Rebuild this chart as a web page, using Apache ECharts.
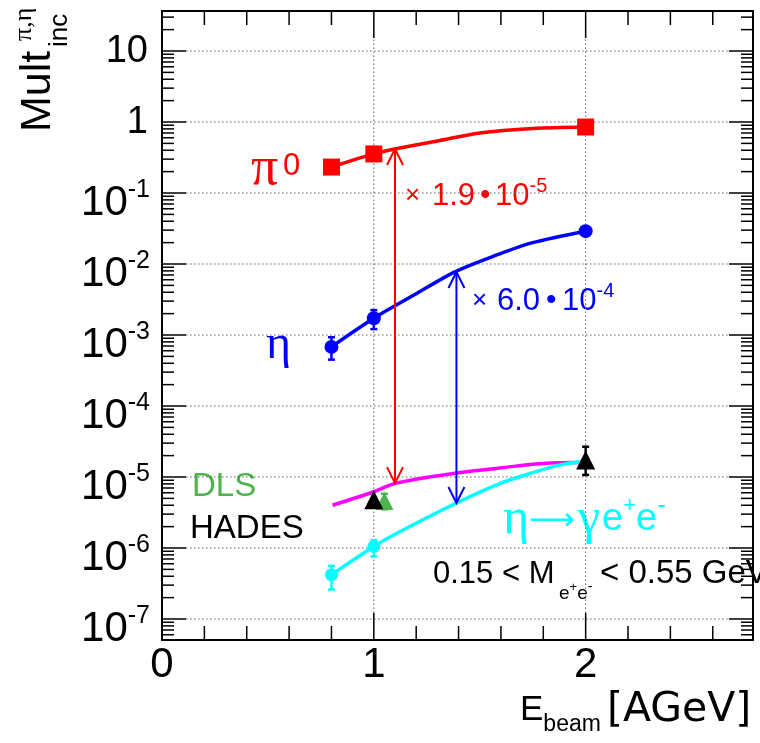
<!DOCTYPE html>
<html>
<head>
<meta charset="utf-8">
<script src="https://cdn.jsdelivr.net/npm/echarts@6/dist/echarts.min.js"></script>
<style>
  html, body { margin: 0; padding: 0; background: #fff; }
  #chart { width: 760px; height: 743px; }
</style>
</head>
<body>
<div id="chart"></div>
<script>
// Inclusive meson multiplicities in 12C + 12C versus beam energy (AGeV)

// pi0 measurements and the curve through them
const piEnergy = [0.8, 1.0, 2.0];
const piMult = [0.232, 0.355, 0.85];
const piCurveEnergy = [0.8, 1.0, 1.1, 1.3, 1.5, 1.75, 2.0];
const piCurveMult = [0.232, 0.355, 0.417, 0.54, 0.70, 0.81, 0.85];

// eta measurements (with error ranges) and the curve through them
const etaEnergy = [0.8, 1.0, 2.0];
const etaMult = [6.8e-4, 1.72e-3, 0.029];
const etaErrLow = [4.5e-4, 1.21e-3];
const etaErrHigh = [9.3e-4, 2.24e-3];
const etaCurveEnergy = [0.8, 1.0, 1.2, 1.38, 1.58, 1.75, 2.0];
const etaCurveMult = [6.8e-4, 1.72e-3, 3.8e-3, 7.7e-3, 0.0134, 0.020, 0.029];

// eta -> gamma e+ e- points and curve
const etaDalitzEnergy = [0.8, 1.0];
const etaDalitzMult = [4.2e-7, 1.05e-6];
const etaDalitzErrLow = [2.6e-7, 7.6e-7];
const etaDalitzErrHigh = [5.6e-7, 1.29e-6];
const etaDalitzCurveEnergy = [0.8, 1.0, 1.12, 1.39, 1.6, 1.75, 1.88, 1.98];
const etaDalitzCurveMult = [4.2e-7, 1.05e-6, 1.68e-6, 4.3e-6, 8.2e-6, 1.15e-5, 1.48e-5, 1.65e-5];

// pi0 Dalitz curve
const piDalitzCurveEnergy = [0.805, 1.0, 1.105, 1.39, 1.595, 1.83, 1.99];
const piDalitzCurveMult = [4.0e-6, 6.2e-6, 8.2e-6, 1.14e-5, 1.34e-5, 1.58e-5, 1.6e-5];

// dilepton data in 0.15 < M < 0.55 GeV
const hadesEnergy = [1.0, 2.0];
const hadesMult = [4.8e-6, 1.73e-5];
const hadesErrEnergy = [2.0];
const hadesErrLow = [1.07e-5];
const hadesErrHigh = [2.67e-5];
const dlsEnergy = [1.05];
const dlsMult = [4.6e-6];
const dlsErrLow = [3.5e-6];
const dlsErrHigh = [5.8e-6];

// scaling arrows: energy, upper end, lower end
const piArrow = [1.1, 0.417, 8.2e-6];
const etaArrow = [1.39, 7.7e-3, 4.3e-6];

// axes
const xMin = 0, xMax = 2.79;
const yMin = 5.06e-8, yMax = 36.6;
const xMajorTicks = [1, 2];
const xMinorTicks = [0.2, 0.4, 0.6, 0.8, 1.2, 1.4, 1.6, 1.8, 2.2, 2.4, 2.6];
const tickDecades = [1e-8, 1e-7, 1e-6, 1e-5, 1e-4, 1e-3, 1e-2, 1e-1, 1, 10];
const decadeSteps = [1, 2, 3, 4, 5, 6, 7, 8, 9];
const yTickValues = [1e-7, 1e-6, 1e-5, 1e-4, 1e-3, 1e-2, 1e-1, 1, 10];
const yTickLabels = ['10^-7', '10^-6', '10^-5', '10^-4', '10^-3', '10^-2', '10^-1', '1', '10'];

const SANS = '"Liberation Sans", Arial, Helvetica, sans-serif';
const WIDE = '"DejaVu Sans", "Liberation Sans", sans-serif';
const SERIF = '"Liberation Serif", "DejaVu Serif", serif';
const RED = '#ff0000', BLUE = '#0000ff', CYAN = '#00ffff', MAGENTA = '#ff00ff', GREEN = '#4db34d';

const measureCtx = document.createElement('canvas').getContext('2d');
function textWidth(t, size, fam) {
  measureCtx.font = size + 'px ' + fam;
  return measureCtx.measureText(t).width;
}
function textEl(x, y, t, size, fill, fam, align) {
  return {
    type: 'text', x: x, y: y, silent: true,
    style: { text: t, font: size + 'px ' + fam, fill: fill, align: align || 'left', verticalAlign: 'middle' }
  };
}
// a run of text pieces laid out left to right (sub/superscripts via dy)
function chain(x, y, parts, fill) {
  const out = [];
  parts.forEach(function (p) {
    if (p.x != null) x = p.x;
    const fam = p.fam || SANS;
    out.push(textEl(x, y + (p.dy || 0), p.t, p.size, p.fill || fill, fam));
    x += textWidth(p.t, p.size, fam);
  });
  return out;
}
function seg(x1, y1, x2, y2, style) {
  return { type: 'line', shape: { x1: x1, y1: y1, x2: x2, y2: y2 }, style: style };
}
function pairs(xs, ys) { return xs.map(function (x, i) { return [x, ys[i]]; }); }
function triples(xs, a, b) { return xs.map(function (x, i) { return [x, a[i], b[i]]; }); }

// frame ticks on all four sides plus dotted grid
function renderFrame(params, api) {
  const lb = api.coord([xMin, yMin]);
  const rt = api.coord([xMax, yMax]);
  const xl = lb[0], yb = lb[1], xr = rt[0], yt = rt[1];
  const kids = [];
  const tick = { stroke: '#000', lineWidth: 1.5 };
  const grid = { stroke: '#606060', lineWidth: 1, lineDash: [1.5, 2.5] };
  tickDecades.forEach(function (dec) {
    decadeSteps.forEach(function (m) {
      const v = dec * m;
      if (v < yMin || v > yMax) return;
      const py = api.coord([xMin, v])[1];
      const len = m === 1 ? 24 : 12;
      if (m === 1) kids.push(seg(xl + len, py, xr - len, py, grid));
      kids.push(seg(xl, py, xl + len, py, tick), seg(xr - len, py, xr, py, tick));
    });
  });
  xMajorTicks.forEach(function (v) {
    const px = api.coord([v, yMin])[0];
    kids.push(seg(px, yb - 27, px, yt + 27, grid));
    kids.push(seg(px, yb, px, yb - 27, tick), seg(px, yt, px, yt + 27, tick));
  });
  xMinorTicks.forEach(function (v) {
    const px = api.coord([v, yMin])[0];
    kids.push(seg(px, yb, px, yb - 14, tick), seg(px, yt, px, yt + 14, tick));
  });
  return { type: 'group', children: kids };
}

// y tick labels, 10 with a raised exponent
function renderYLabel(params, api) {
  const idx = params.dataIndex;
  const p = api.coord([xMin, yTickValues[idx]]);
  const right = p[0] - 12;
  const parts = yTickLabels[idx].split('^');
  if (parts.length === 1) {
    return { type: 'group', children: [textEl(right - 2, p[1] + 1, parts[0], 38, '#000', SANS, 'right')] };
  }
  const supW = textWidth(parts[1], 25, SANS);
  return {
    type: 'group', children: [
      textEl(right, p[1] - 3, parts[1], 25, '#000', SANS, 'right'),
      textEl(right - supW, p[1] + 10, parts[0], 42, '#000', SANS, 'right')
    ]
  };
}

function renderErr(params, api) {
  const x = api.value(0);
  const a = api.coord([x, api.value(1)]);
  const b = api.coord([x, api.value(2)]);
  const st = { stroke: api.visual('color'), lineWidth: 2.5 };
  return {
    type: 'group', children: [
      seg(a[0], a[1], b[0], b[1], st),
      seg(a[0] - 3.5, a[1], a[0] + 3.5, a[1], st),
      seg(b[0] - 3.5, b[1], b[0] + 3.5, b[1], st)
    ]
  };
}

function renderArrow(params, api) {
  const x = api.value(0);
  const a = api.coord([x, api.value(1)]);
  const b = api.coord([x, api.value(2)]);
  const st = { stroke: api.visual('color'), lineWidth: 2, fill: 'none' };
  return {
    type: 'group', children: [
      seg(a[0], a[1], b[0], b[1], st),
      { type: 'polyline', shape: { points: [[a[0] - 8, a[1] + 16], [a[0], a[1]], [a[0] + 8, a[1] + 16]] }, style: st },
      { type: 'polyline', shape: { points: [[b[0] - 8, b[1] - 16], [b[0], b[1]], [b[0] + 8, b[1] - 16]] }, style: st }
    ]
  };
}

function curve(data, color) {
  return {
    type: 'line', data: data, smooth: 0.3, showSymbol: false, symbol: 'none', z: 3,
    lineStyle: { color: color, width: 3.5 }, silent: true
  };
}
function markers(data, symbol, size, color, z) {
  return {
    type: 'scatter', data: data, symbol: symbol, symbolSize: size, z: z || 6,
    itemStyle: { color: color, opacity: 1 }, silent: true
  };
}

// annotation texts
const annotations = [].concat(
  chain(210, 43, [{ t: '12', size: 27 }]),
  chain(243, 67, [{ t: 'C', size: 46 }, { t: '+', size: 46, x: 297 }]),
  chain(328, 43, [{ t: '12', size: 27 }]),
  chain(362, 67, [{ t: 'C', size: 46 }]),
  chain(251, 170, [{ t: 'π', size: 54, fam: SERIF }], RED),
  chain(283, 166, [{ t: '0', size: 31 }], RED),
  chain(266, 345, [{ t: 'η', size: 48, fam: SERIF }], BLUE),
  chain(405, 196, [
    { t: '×', size: 26 }, { t: '1.9', size: 31, x: 432 }, { t: '•', size: 30, x: 480 },
    { t: '10', size: 31, x: 495 }, { t: '-5', size: 20, dy: -10 }
  ], RED),
  chain(472, 301, [
    { t: '×', size: 26 }, { t: '6.0', size: 31, x: 497 }, { t: '•', size: 30, x: 546 },
    { t: '10', size: 31, x: 562 }, { t: '-4', size: 20, dy: -10 }
  ], BLUE),
  chain(192, 487, [{ t: 'DLS', size: 33 }], GREEN),
  chain(190, 529, [{ t: 'HADES', size: 33 }], '#000'),
  chain(503, 520, [
    { t: 'η', size: 50, fam: SERIF }, { t: '⟶', size: 32, fam: WIDE, x: 529, dy: 2 },
    { t: 'γ', size: 50, fam: SERIF, x: 578 }, { t: 'e', size: 38, x: 602 }, { t: '+', size: 22, dy: -14 },
    { t: 'e', size: 38, x: 636 }, { t: '-', size: 26, dy: -14 }
  ], CYAN),
  chain(433, 574, [
    { t: '0.15 < M', size: 31 }, { t: 'e', size: 19, x: 559, dy: 20 }, { t: '+', size: 13, dy: 13 },
    { t: 'e', size: 19, dy: 20 }, { t: '-', size: 14, dy: 13 }, { t: '< 0.55 GeV', size: 33, x: 600 }
  ], '#000'),
  chain(520, 710, [{ t: 'E', size: 35 }, { t: 'beam', size: 23, dy: 15 }, { t: '[AGeV]', size: 41, fam: WIDE, x: 607 }], '#000'),
  [{
    type: 'group', x: 38, y: 132, rotation: Math.PI / 2,
    children: [].concat(
      chain(0, 0, [{ t: 'Mult', size: 43 }], '#000'),
      chain(85, 22, [{ t: 'inc', size: 26 }], '#000'),
      chain(91, -14, [{ t: 'π,η', size: 26, fam: SERIF }], '#000')
    )
  }]
);

const chart = echarts.init(document.getElementById('chart'), null, { renderer: 'canvas' });
chart.setOption({
  animation: false,
  backgroundColor: '#fff',
  grid: { left: 162, right: 7, top: 11, bottom: 103, show: true, borderColor: '#000', borderWidth: 2, backgroundColor: 'transparent' },
  xAxis: {
    type: 'value', min: xMin, max: xMax, interval: 1,
    axisLine: { show: false }, axisTick: { show: false }, splitLine: { show: false },
    axisLabel: {
      margin: 4, fontSize: 42, fontFamily: SANS, color: '#000', showMaxLabel: false,
      formatter: function (v) { return Number.isInteger(v) ? String(v) : ''; }
    }
  },
  yAxis: {
    type: 'log', logBase: 10, min: yMin, max: yMax,
    axisLine: { show: false }, axisTick: { show: false }, splitLine: { show: false }, axisLabel: { show: false }
  },
  graphic: { elements: annotations },
  series: [
    { type: 'custom', renderItem: renderFrame, data: [[1, 1]], silent: true, z: 1 },
    { type: 'custom', renderItem: renderYLabel, data: yTickValues.map(function (v) { return [xMin, v]; }), silent: true, z: 1 },
    curve(pairs(piCurveEnergy, piCurveMult), RED),
    curve(pairs(etaCurveEnergy, etaCurveMult), BLUE),
    curve(pairs(piDalitzCurveEnergy, piDalitzCurveMult), MAGENTA),
    curve(pairs(etaDalitzCurveEnergy, etaDalitzCurveMult), CYAN),
    { type: 'custom', renderItem: renderArrow, data: [piArrow], itemStyle: { color: RED }, silent: true, z: 4 },
    { type: 'custom', renderItem: renderArrow, data: [etaArrow], itemStyle: { color: BLUE }, silent: true, z: 4 },
    { type: 'custom', renderItem: renderErr, data: triples(etaEnergy.slice(0, 2), etaErrLow, etaErrHigh), itemStyle: { color: BLUE }, silent: true, z: 5 },
    { type: 'custom', renderItem: renderErr, data: triples(etaDalitzEnergy, etaDalitzErrLow, etaDalitzErrHigh), itemStyle: { color: CYAN }, silent: true, z: 5 },
    { type: 'custom', renderItem: renderErr, data: triples(dlsEnergy, dlsErrLow, dlsErrHigh), itemStyle: { color: GREEN }, silent: true, z: 5 },
    { type: 'custom', renderItem: renderErr, data: triples(hadesErrEnergy, hadesErrLow, hadesErrHigh), itemStyle: { color: '#000' }, silent: true, z: 7 },
    markers(pairs(piEnergy, piMult), 'rect', 17, RED),
    markers(pairs(etaEnergy, etaMult), 'circle', 14, BLUE),
    markers(pairs(etaDalitzEnergy, etaDalitzMult), 'circle', 13, CYAN),
    markers(pairs(dlsEnergy, dlsMult), 'triangle', 18, GREEN, 6),
    markers(pairs(hadesEnergy, hadesMult), 'triangle', 19, '#000', 7)
  ]
});
</script>
</body>
</html>
